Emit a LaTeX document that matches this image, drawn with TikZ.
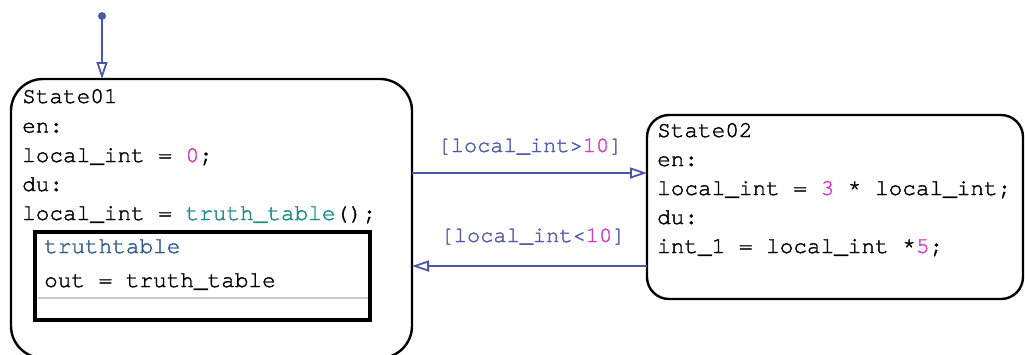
\documentclass[tikz,border=0pt]{standalone}
\usepackage{fontspec}
\setmonofont[FakeBold=1.6]{texgyrecursor-regular.otf}
\usetikzlibrary{arrows.meta}
\definecolor{trans}{HTML}{4A56A6}
\definecolor{guard}{HTML}{4F5AAA}
\definecolor{numc}{HTML}{D23CC8}
\definecolor{fnc}{HTML}{178A8A}
\definecolor{ttc}{HTML}{2E5A8C}
\definecolor{sepc}{HTML}{C8C8C8}
\tikzset{
  statebox/.style={draw=black, line width=2.4pt},
  code/.style={anchor=base west, inner sep=0pt, font=\fontsize{22.7}{27}\selectfont\ttfamily},
  guardtxt/.style={anchor=base, inner sep=0pt, text=guard, font=\fontsize{22}{26}\selectfont\ttfamily},
  transarrow/.style={draw=trans, line width=1.8pt,
    -{Triangle[open, length=17pt, width=11pt, line width=1.8pt]}},
}
\begin{document}
\begin{tikzpicture}[x=1pt, y=1pt]
\useasboundingbox (0,0) rectangle (1025,-354);
\begin{scope}
\clip (0,0) rectangle (1025,-354);
% states
\draw[statebox, rounded corners=32pt] (11,-79) rectangle (412,-358);
\draw[statebox, rounded corners=22pt] (647,-115) rectangle (1023,-299);
\end{scope}
\coordinate (s1top) at (102,-79);
\coordinate (s1r1) at (412,-173);
\coordinate (s2l1) at (647,-173);
\coordinate (s2l2) at (647,-266);
\coordinate (s1r2) at (412,-266);

% State01 text
\node[code] (a1) at (22,-103) {State01};
\node[code] (a2) at (22,-132.5) {en:};
\node[code] (a3) at (22,-162) {local\_int = \textcolor{numc}{0};};
\node[code] (a4) at (22,-191) {du:};
\node[code] (a5) at (22,-220) {local\_int = \textcolor{fnc}{truth\_table}();};

% truth table box
\draw[black, line width=4.5pt] (35,-232) rectangle (370,-320);
\draw[sepc, line width=2pt] (37.5,-298) -- (367.5,-298);
\node[code, text=ttc] (t1) at (44,-253) {truthtable};
\node[code] (t2) at (44,-287) {out = truth\_table};

% State02 text
\node[code] (b1) at (657,-137) {State02};
\node[code] (b2) at (657,-166) {en:};
\node[code] (b3) at (657,-195) {local\_int = \textcolor{numc}{3} * local\_int;};
\node[code] (b4) at (657,-224) {du:};
\node[code] (b5) at (657,-253) {int\_1 = local\_int *\textcolor{numc}{5};};

% default transition
\fill[trans] (102,-16) circle (4pt) coordinate (dot);
\draw[transarrow] (dot) -- (s1top);

% transitions
\draw[transarrow] (s1r1) -- (s2l1);
\draw[transarrow] (s2l2) -- (s1r2);
\node[guardtxt] (g1) at (530,-152) {[local\_int>\textcolor{numc}{10}]};
\node[guardtxt] (g2) at (533,-242) {[local\_int<\textcolor{numc}{10}]};
\end{tikzpicture}
\end{document}
